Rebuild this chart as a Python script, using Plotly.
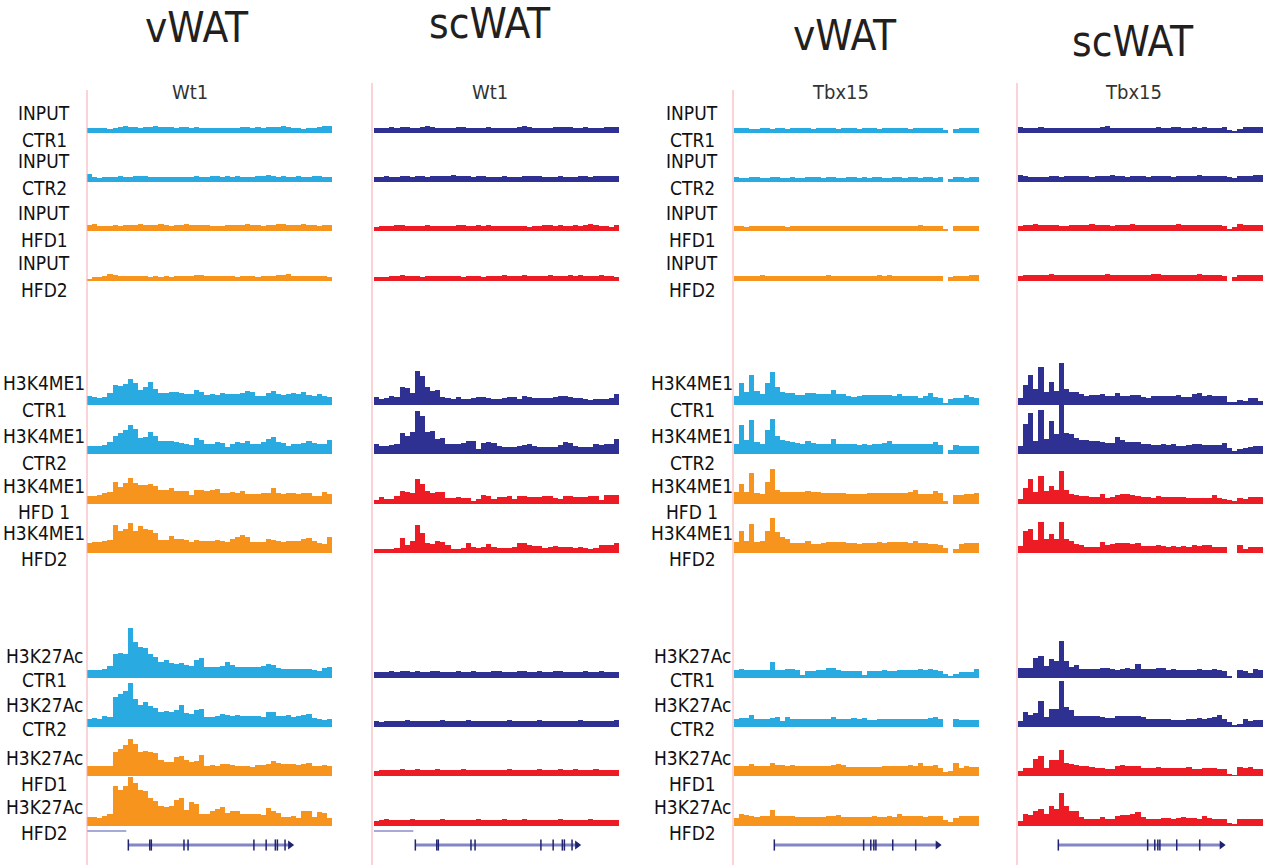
import plotly.graph_objects as go

FIG_W, FIG_H = 1267, 865
N_BINS = 48
BIN_X = [i + 0.5 for i in range(N_BINS)]

# ---------------- vWAT, Wt1 locus ----------------
vwat_wt1_input_ctr1 = [5,5,5,5,4,5,6,7,6,6, 5,6,6,7,6,6,6,5,6,6, 5,6,5,5,5,5,5,5,5,5, 6,6,5,6,5,6,6,6,7,6, 5,5,4,5,5,6,7,7]
vwat_wt1_input_ctr2 = [8,5,4,5,5,5,6,5,5,6, 6,6,5,5,5,5,5,5,5,5, 5,6,5,5,6,6,5,6,5,6, 5,5,5,6,6,7,6,5,6,5, 5,6,5,5,6,6,5,5]
vwat_wt1_input_hfd1 = [6,7,5,5,5,6,5,6,6,6, 7,6,6,6,7,6,5,6,6,7, 6,6,6,6,5,5,5,6,6,6, 6,7,6,6,5,6,6,7,7,6, 6,6,7,6,6,5,6,6]
vwat_wt1_input_hfd2 = [2,4,4,5,7,6,5,5,5,5, 5,5,4,5,4,5,4,5,5,5, 5,6,6,5,5,5,5,5,5,4, 5,5,5,4,5,5,5,6,6,7, 5,5,5,5,5,5,5,4]
vwat_wt1_k4me1_ctr1 = [9,8,7,8,12,20,19,21,26,22, 15,18,23,16,12,12,13,13,12,11, 11,15,13,10,11,10,12,11,11,11, 12,14,13,9,9,12,14,11,10,11, 12,11,13,10,9,11,9,8]
vwat_wt1_k4me1_ctr2 = [8,8,8,9,12,18,21,24,29,25, 16,17,22,18,13,13,13,12,11,10, 9,16,14,10,10,12,11,7,10,12, 11,13,10,10,12,15,17,12,11,8, 10,10,11,13,11,10,10,14]
vwat_wt1_k4me1_hfd1 = [8,8,9,11,12,22,17,21,26,21, 19,19,20,18,14,14,16,13,13,13, 9,14,14,13,14,15,11,11,12,11, 13,10,10,10,11,11,16,11,10,11, 11,10,11,11,8,8,12,10]
vwat_wt1_k4me1_hfd2 = [10,11,11,12,13,28,22,24,30,22, 27,24,23,20,13,13,17,14,14,13, 11,13,12,12,12,13,12,11,14,16, 18,16,11,11,11,14,13,12,11,12, 12,12,14,15,12,10,9,16]
vwat_wt1_k27ac_ctr1 = [8,8,8,9,12,24,25,24,50,36, 31,30,24,21,16,18,15,14,15,13, 12,18,20,11,11,11,12,16,13,11, 11,11,11,11,12,14,13,10,9,9, 9,9,9,9,8,7,10,11]
vwat_wt1_k27ac_ctr2 = [8,9,8,11,10,30,33,36,44,28, 22,25,21,19,15,16,15,17,22,14, 13,17,18,10,10,11,13,12,11,12, 11,11,11,11,10,15,15,11,11,12, 10,11,12,13,9,8,7,8]
vwat_wt1_k27ac_hfd1 = [10,10,10,10,10,24,27,31,37,32, 24,25,24,23,16,14,14,19,20,16, 14,15,21,10,11,10,12,12,11,10, 10,10,9,11,11,12,15,13,12,12, 12,11,12,13,10,10,11,10]
vwat_wt1_k27ac_hfd2 = [9,9,8,10,12,40,36,40,49,43, 36,35,28,25,20,19,20,26,28,16, 24,22,12,12,15,17,19,13,15,15, 12,12,12,12,11,18,15,13,9,9, 10,8,15,15,9,14,13,8]

# ---------------- scWAT, Wt1 locus ----------------
scwat_wt1_input_ctr1 = [5,5,5,6,5,6,6,5,5,6, 7,6,5,5,5,5,6,6,5,5, 5,5,6,5,5,5,5,5,6,7, 6,5,5,5,5,6,6,6,6,5, 5,6,5,5,5,6,6,6]
scwat_wt1_input_ctr2 = [5,5,6,5,5,6,6,5,6,6, 5,6,6,6,6,7,6,6,6,5, 6,6,5,5,5,6,5,5,5,6, 6,6,6,5,5,5,6,5,5,5, 6,6,5,6,6,6,6,6]
scwat_wt1_input_hfd1 = [4,5,5,5,6,6,5,5,5,5, 6,5,5,5,5,5,6,6,5,5, 6,5,6,5,5,5,5,5,5,5, 4,5,5,6,6,5,6,5,5,6, 5,6,7,6,5,5,4,6]
scwat_wt1_input_hfd2 = [4,4,4,5,5,6,5,5,5,4, 5,5,5,5,5,5,5,4,5,5, 5,4,5,5,5,6,5,5,5,6, 5,5,5,5,6,5,5,5,6,5, 6,5,5,5,6,5,5,4]
scwat_wt1_k4me1_ctr1 = [8,6,7,9,8,18,17,12,34,29, 18,14,15,8,7,6,8,6,6,7, 8,8,7,6,6,7,8,8,6,9, 8,7,7,7,7,8,9,9,8,7, 7,6,5,6,6,6,7,11]
scwat_wt1_k4me1_ctr2 = [10,8,8,9,10,21,18,22,43,38, 22,23,15,16,10,10,10,11,13,13, 5,11,12,11,8,7,7,7,8,9, 10,8,7,7,7,7,9,12,11,8, 7,7,7,10,9,10,10,15]
scwat_wt1_k4me1_hfd1 = [4,7,5,5,8,13,12,11,25,20, 13,11,12,12,6,6,7,6,6,3, 5,9,8,5,7,7,8,5,8,8, 7,7,7,8,8,6,5,8,8,7, 7,7,8,8,4,9,9,9]
scwat_wt1_k4me1_hfd2 = [4,4,4,4,5,15,8,12,28,20, 10,9,12,11,8,4,4,5,10,6, 5,6,9,6,5,5,5,6,10,10, 8,7,7,5,6,7,6,6,6,5, 6,5,4,5,8,8,8,10]
scwat_wt1_k27ac_ctr1 = [6,6,6,7,6,7,7,6,7,6, 6,7,7,6,6,6,7,6,6,7, 6,6,6,7,7,6,6,6,7,7, 6,6,7,6,6,7,7,6,6,6, 6,7,6,6,7,6,6,6]
scwat_wt1_k27ac_ctr2 = [6,5,6,6,6,6,7,6,6,6, 6,6,6,7,6,6,6,6,7,6, 6,6,6,6,6,6,7,6,6,6, 6,6,7,6,6,6,6,6,6,6, 7,6,6,6,6,6,6,7]
scwat_wt1_k27ac_hfd1 = [5,6,6,6,6,7,6,6,7,6, 6,6,7,6,6,6,6,7,6,6, 6,6,6,6,6,6,7,6,6,6, 6,6,7,6,6,6,7,6,6,7, 6,6,6,7,6,6,6,6]
scwat_wt1_k27ac_hfd2 = [5,6,7,6,6,6,6,7,6,6, 6,6,6,7,6,6,6,6,6,6, 7,6,6,6,6,7,6,6,6,7, 6,6,6,6,6,6,7,6,6,6, 6,6,7,6,6,6,6,6]

# ---------------- vWAT, Tbx15 locus ----------------
vwat_tbx15_input_ctr1 = [5,5,5,4,4,5,5,4,5,5, 4,5,5,5,5,4,5,5,5,5, 4,5,5,5,4,5,5,5,4,5, 5,5,5,5,4,5,5,5,5,5, 5,3,0,4,5,5,5,5]
vwat_tbx15_input_ctr2 = [5,4,4,5,5,4,4,5,5,4, 4,5,4,4,5,5,5,4,5,5, 4,4,5,5,4,5,4,5,5,4, 4,5,5,4,5,5,4,5,5,4, 5,0,3,5,5,4,5,5]
vwat_tbx15_input_hfd1 = [5,5,4,5,5,5,5,5,5,5, 4,5,5,5,5,5,5,5,5,5, 5,5,5,5,5,5,5,5,5,5, 5,5,5,5,5,5,6,5,5,5, 5,2,0,5,5,5,5,5]
vwat_tbx15_input_hfd2 = [5,5,5,5,5,6,5,5,5,5, 5,5,5,5,5,5,5,5,6,5, 5,5,5,5,5,5,5,5,6,5, 6,5,5,5,5,5,5,5,5,5, 5,0,4,5,5,5,6,6]
vwat_tbx15_k4me1_ctr1 = [9,22,13,30,14,11,22,33,18,13, 12,12,10,10,12,12,11,11,11,15, 11,11,9,8,9,10,10,10,10,10, 10,9,11,9,9,9,7,9,12,8, 7,2,6,7,7,10,8,7]
vwat_tbx15_k4me1_ctr2 = [10,29,14,34,12,10,24,35,18,14, 13,12,11,10,13,11,10,10,10,15, 10,10,10,10,9,10,9,10,10,11, 13,10,10,10,10,10,10,10,10,12, 9,0,4,9,8,8,8,8]
vwat_tbx15_k4me1_hfd1 = [12,20,12,31,11,10,22,35,14,12, 12,12,12,12,13,12,12,11,11,11, 11,11,10,10,10,10,11,11,11,11, 11,11,11,11,12,14,10,10,10,13, 11,3,0,9,9,10,10,11]
vwat_tbx15_k4me1_hfd2 = [11,22,12,29,11,12,22,35,21,16, 14,10,10,10,12,9,9,10,11,11, 11,11,10,10,9,10,10,10,11,10, 11,11,11,11,10,12,10,10,9,9, 8,5,0,4,9,10,10,10]
vwat_tbx15_k27ac_ctr1 = [8,9,8,8,8,8,8,16,8,8, 9,9,8,3,7,7,8,8,10,10, 8,7,7,7,7,3,7,7,7,8, 7,7,8,8,8,8,9,8,9,8, 7,4,2,4,6,6,6,9]
vwat_tbx15_k27ac_ctr2 = [8,9,9,12,8,8,8,9,10,6, 10,8,8,8,8,8,8,8,8,10, 8,8,8,9,8,9,7,7,8,8, 8,8,8,8,8,8,8,8,9,10, 8,0,0,8,7,7,7,7]
vwat_tbx15_k27ac_hfd1 = [10,10,10,12,10,10,10,13,11,11, 10,11,10,10,10,10,10,10,10,11, 12,11,9,9,9,9,9,9,9,10, 10,10,10,10,11,10,13,10,10,11, 8,4,5,13,8,10,9,9]
vwat_tbx15_k27ac_hfd2 = [8,12,11,10,9,10,10,16,10,10, 10,10,9,9,9,9,9,9,10,10, 11,9,9,9,9,9,9,10,9,9, 10,9,12,10,10,10,10,9,10,10, 10,6,4,8,10,10,10,10]

# ---------------- scWAT, Tbx15 locus ----------------
scwat_tbx15_input_ctr1 = [6,5,5,5,6,5,5,5,5,5, 5,5,5,5,5,5,6,7,5,5, 5,5,5,5,5,5,5,6,5,5, 6,6,5,5,6,5,6,5,5,5, 6,3,2,4,6,6,6,6]
scwat_tbx15_input_ctr2 = [7,6,5,5,5,5,6,6,5,6, 6,6,6,6,5,6,6,6,7,6, 6,5,6,6,6,5,6,6,6,6, 5,6,6,6,6,7,6,6,6,6, 6,5,4,6,6,6,7,7]
scwat_tbx15_input_hfd1 = [5,6,6,7,6,6,6,6,5,5, 6,6,6,6,7,6,6,6,5,6, 6,6,7,6,6,6,6,6,6,6, 6,7,6,6,6,6,6,6,6,6, 5,2,4,7,6,6,6,6]
scwat_tbx15_input_hfd2 = [5,6,6,6,6,6,7,6,6,6, 6,6,6,6,6,6,6,7,6,6, 6,6,6,6,6,6,7,7,6,6, 6,6,6,6,6,7,6,6,6,6, 5,0,4,6,6,6,6,6]
scwat_tbx15_k4me1_ctr1 = [7,20,30,16,38,13,23,14,42,16, 13,13,11,9,10,10,11,9,9,12, 9,9,10,10,8,7,9,9,9,9, 9,10,8,8,11,12,9,10,9,9, 9,3,3,5,4,7,7,4]
scwat_tbx15_k4me1_ctr2 = [8,30,41,13,44,15,33,20,52,21, 20,16,14,14,13,13,12,11,11,17, 14,12,12,12,10,10,9,9,10,9, 10,8,8,9,10,10,9,9,9,9, 11,6,3,5,6,7,8,8]
scwat_tbx15_k4me1_hfd1 = [5,16,25,12,28,13,18,14,33,14, 10,9,8,8,7,7,10,6,7,9, 10,10,9,8,7,7,6,8,7,7, 7,7,7,6,6,6,6,6,9,6, 5,4,3,6,5,7,7,7]
scwat_tbx15_k4me1_hfd2 = [7,22,24,13,31,14,19,14,31,14, 12,9,8,6,6,6,11,8,9,10, 10,10,9,10,7,7,7,8,7,6, 7,6,7,6,8,7,8,8,6,6, 6,0,0,8,4,6,6,6]
scwat_tbx15_k27ac_ctr1 = [10,10,10,20,22,12,19,17,37,17, 11,13,9,9,9,9,10,10,9,8, 9,10,9,14,9,9,9,10,10,8, 9,8,8,8,8,9,8,8,9,8, 7,2,0,8,7,5,9,8]
scwat_tbx15_k27ac_ctr2 = [6,15,12,14,26,10,18,18,46,20, 17,11,11,11,11,11,10,9,9,11, 11,11,11,11,10,8,8,8,8,8, 7,7,7,8,8,9,8,9,10,12, 8,5,2,3,8,6,7,7]
scwat_tbx15_k27ac_hfd1 = [5,8,8,17,20,8,16,16,26,13, 12,11,10,10,9,8,8,7,7,10, 11,10,10,10,8,8,8,9,8,8, 8,8,8,9,7,7,8,8,8,7, 7,2,1,9,8,9,7,7]
scwat_tbx15_k27ac_hfd2 = [5,12,11,15,17,12,20,17,33,20, 15,15,9,7,7,7,9,7,7,10, 11,11,12,14,9,7,7,7,8,8, 7,8,9,8,8,7,10,8,7,7, 7,3,2,7,7,7,7,7]

# ---------------- gene models (in bin units) ----------------
wt1_upstream = [0.0, 7.7]
wt1_tx = [8.1, 39.8]
wt1_exons = [12.3, 12.6, 19.0, 19.8, 32.7, 35.1, 36.9, 37.3, 38.8]
tbx15_tx = [7.9, 39.9]
tbx15_exons = [25.4, 26.8, 27.4, 27.8, 31.1, 35.6]

# ---------------- text ----------------
label_marks = ["INPUT", "INPUT", "INPUT", "INPUT",
               "H3K4ME1", "H3K4ME1", "H3K4ME1", "H3K4ME1",
               "H3K27Ac", "H3K27Ac", "H3K27Ac", "H3K27Ac"]
label_samples = ["CTR1", "CTR2", "HFD1", "HFD2",
                 "CTR1", "CTR2", "HFD 1", "HFD2",
                 "CTR1", "CTR2", "HFD1", "HFD2"]
tissue_titles = ["vWAT", "scWAT", "vWAT", "scWAT"]
locus_titles = ["Wt1", "Wt1", "Tbx15", "Tbx15"]

panel_tracks = [
    [vwat_wt1_input_ctr1, vwat_wt1_input_ctr2, vwat_wt1_input_hfd1, vwat_wt1_input_hfd2,
     vwat_wt1_k4me1_ctr1, vwat_wt1_k4me1_ctr2, vwat_wt1_k4me1_hfd1, vwat_wt1_k4me1_hfd2,
     vwat_wt1_k27ac_ctr1, vwat_wt1_k27ac_ctr2, vwat_wt1_k27ac_hfd1, vwat_wt1_k27ac_hfd2],
    [scwat_wt1_input_ctr1, scwat_wt1_input_ctr2, scwat_wt1_input_hfd1, scwat_wt1_input_hfd2,
     scwat_wt1_k4me1_ctr1, scwat_wt1_k4me1_ctr2, scwat_wt1_k4me1_hfd1, scwat_wt1_k4me1_hfd2,
     scwat_wt1_k27ac_ctr1, scwat_wt1_k27ac_ctr2, scwat_wt1_k27ac_hfd1, scwat_wt1_k27ac_hfd2],
    [vwat_tbx15_input_ctr1, vwat_tbx15_input_ctr2, vwat_tbx15_input_hfd1, vwat_tbx15_input_hfd2,
     vwat_tbx15_k4me1_ctr1, vwat_tbx15_k4me1_ctr2, vwat_tbx15_k4me1_hfd1, vwat_tbx15_k4me1_hfd2,
     vwat_tbx15_k27ac_ctr1, vwat_tbx15_k27ac_ctr2, vwat_tbx15_k27ac_hfd1, vwat_tbx15_k27ac_hfd2],
    [scwat_tbx15_input_ctr1, scwat_tbx15_input_ctr2, scwat_tbx15_input_hfd1, scwat_tbx15_input_hfd2,
     scwat_tbx15_k4me1_ctr1, scwat_tbx15_k4me1_ctr2, scwat_tbx15_k4me1_hfd1, scwat_tbx15_k4me1_hfd2,
     scwat_tbx15_k27ac_ctr1, scwat_tbx15_k27ac_ctr2, scwat_tbx15_k27ac_hfd1, scwat_tbx15_k27ac_hfd2],
]

# colours: (control diet, high-fat diet) per tissue
VWAT_COLORS = ("#29ABE2", "#F7941E")
SCWAT_COLORS = ("#2E3192", "#ED1C24")
panel_colors = [VWAT_COLORS, SCWAT_COLORS, VWAT_COLORS, SCWAT_COLORS]
GUIDE_COLOR = "#F4A9AE"
GENE_LINE = "#8386C4"
GENE_DARK = "#1F2370"
FONT = "DejaVu Sans Condensed, DejaVu Sans, sans-serif"

# ---------------- geometry (pixels) ----------------
panel_x_px = [(87, 332), (374, 619), (734, 979), (1018, 1263)]
guide_x_px = [87, 372, 733, 1017]
guide_top_px = [90, 83, 90, 83]
row_base_px = [133, 182, 231, 281, 405, 454, 504, 553, 678, 727, 776, 826]
ROW_SPAN = 56
gene_band_px = (822, 852)
GENE_LEVEL, UPSTREAM_LEVEL = 7, 21

title_pos_px = [(197, 28), (490, 24), (845, 36), (1133, 41)]
locus_pos_px = [(190, 92), (490, 92), (840, 92), (1133, 92)]
label_col_px = [44, 692]
label_rows_px = [(113, 140), (161, 188), (213, 240), (263, 290),
                 (383, 410), (436, 463), (486, 512), (533, 559),
                 (656, 680), (705, 729), (758, 784), (807, 833)]


def px_x(x):
    return x / FIG_W


def px_y(y):
    return 1 - y / FIG_H


fig = go.Figure()
layout = dict(
    width=FIG_W, height=FIG_H,
    margin=dict(l=0, r=0, t=0, b=0),
    paper_bgcolor="white", plot_bgcolor="rgba(0,0,0,0)",
    showlegend=False, barmode="overlay", bargap=0,
)

for p, (x0, x1) in enumerate(panel_x_px):
    key = "xaxis" if p == 0 else f"xaxis{p + 1}"
    layout[key] = dict(domain=[px_x(x0), px_x(x1)], range=[0, N_BINS],
                       visible=False, fixedrange=True, anchor="y")

for r, base in enumerate(row_base_px):
    key = "yaxis" if r == 0 else f"yaxis{r + 1}"
    layout[key] = dict(domain=[px_y(base), px_y(base - ROW_SPAN)], range=[0, ROW_SPAN],
                       visible=False, fixedrange=True, anchor="x")

gene_axis = len(row_base_px) + 1
layout[f"yaxis{gene_axis}"] = dict(domain=[px_y(gene_band_px[1]), px_y(gene_band_px[0])],
                                   range=[0, gene_band_px[1] - gene_band_px[0]],
                                   visible=False, fixedrange=True, anchor="x")

# signal tracks
for p, tracks in enumerate(panel_tracks):
    xref = "x" if p == 0 else f"x{p + 1}"
    for r, values in enumerate(tracks):
        yref = "y" if r == 0 else f"y{r + 1}"
        color = panel_colors[p][0] if r % 4 < 2 else panel_colors[p][1]
        fig.add_trace(go.Bar(x=BIN_X, y=values, width=1.0, xaxis=xref, yaxis=yref,
                             marker=dict(color=color, line=dict(width=0)),
                             hoverinfo="skip"))

# gene models
gene_models = [(wt1_tx, wt1_exons, wt1_upstream), (wt1_tx, wt1_exons, wt1_upstream),
               (tbx15_tx, tbx15_exons, None), (tbx15_tx, tbx15_exons, None)]
gref = f"y{gene_axis}"
for p, (tx, exons, upstream) in enumerate(gene_models):
    xref = "x" if p == 0 else f"x{p + 1}"
    if upstream is not None:
        fig.add_trace(go.Scatter(x=upstream, y=[UPSTREAM_LEVEL] * 2, mode="lines",
                                 line=dict(color="#A7A9D6", width=2),
                                 xaxis=xref, yaxis=gref, hoverinfo="skip"))
    fig.add_trace(go.Scatter(x=tx, y=[GENE_LEVEL] * 2, mode="lines",
                             line=dict(color=GENE_LINE, width=3),
                             xaxis=xref, yaxis=gref, hoverinfo="skip"))
    fig.add_trace(go.Scatter(x=[tx[0]] + exons, y=[GENE_LEVEL] * (len(exons) + 1),
                             mode="markers",
                             marker=dict(symbol="line-ns", size=8,
                                         line=dict(color=GENE_DARK, width=1.5)),
                             xaxis=xref, yaxis=gref, hoverinfo="skip"))
    fig.add_trace(go.Scatter(x=[tx[1]], y=[GENE_LEVEL], mode="markers",
                             marker=dict(symbol="triangle-right", size=8, color=GENE_DARK),
                             xaxis=xref, yaxis=gref, hoverinfo="skip"))

# vertical guides at the left edge of each locus window
shapes = []
for gx, top in zip(guide_x_px, guide_top_px):
    shapes.append(dict(type="line", xref="paper", yref="paper", x0=px_x(gx), x1=px_x(gx),
                       y0=0, y1=px_y(top), line=dict(color=GUIDE_COLOR, width=1)))
layout["shapes"] = shapes

annotations = []
for text, (cx, cy) in zip(tissue_titles, title_pos_px):
    annotations.append(dict(text=text, x=px_x(cx), y=px_y(cy), xref="paper", yref="paper",
                            showarrow=False, xanchor="center", yanchor="middle",
                            font=dict(family=FONT, size=42, color="#231F20")))
for text, (cx, cy) in zip(locus_titles, locus_pos_px):
    annotations.append(dict(text=text, x=px_x(cx), y=px_y(cy), xref="paper", yref="paper",
                            showarrow=False, xanchor="center", yanchor="middle",
                            font=dict(family=FONT, size=20, color="#333333")))
for cx in label_col_px:
    for mark, sample, (y_mark, y_sample) in zip(label_marks, label_samples, label_rows_px):
        for text, cy in ((mark, y_mark), (sample, y_sample)):
            annotations.append(dict(text=text, x=px_x(cx), y=px_y(cy), xref="paper",
                                    yref="paper", showarrow=False, xanchor="center",
                                    yanchor="middle",
                                    font=dict(family=FONT, size=19, color="#111111")))
layout["annotations"] = annotations

fig.update_layout(**layout)
fig.write_html("out.html")
